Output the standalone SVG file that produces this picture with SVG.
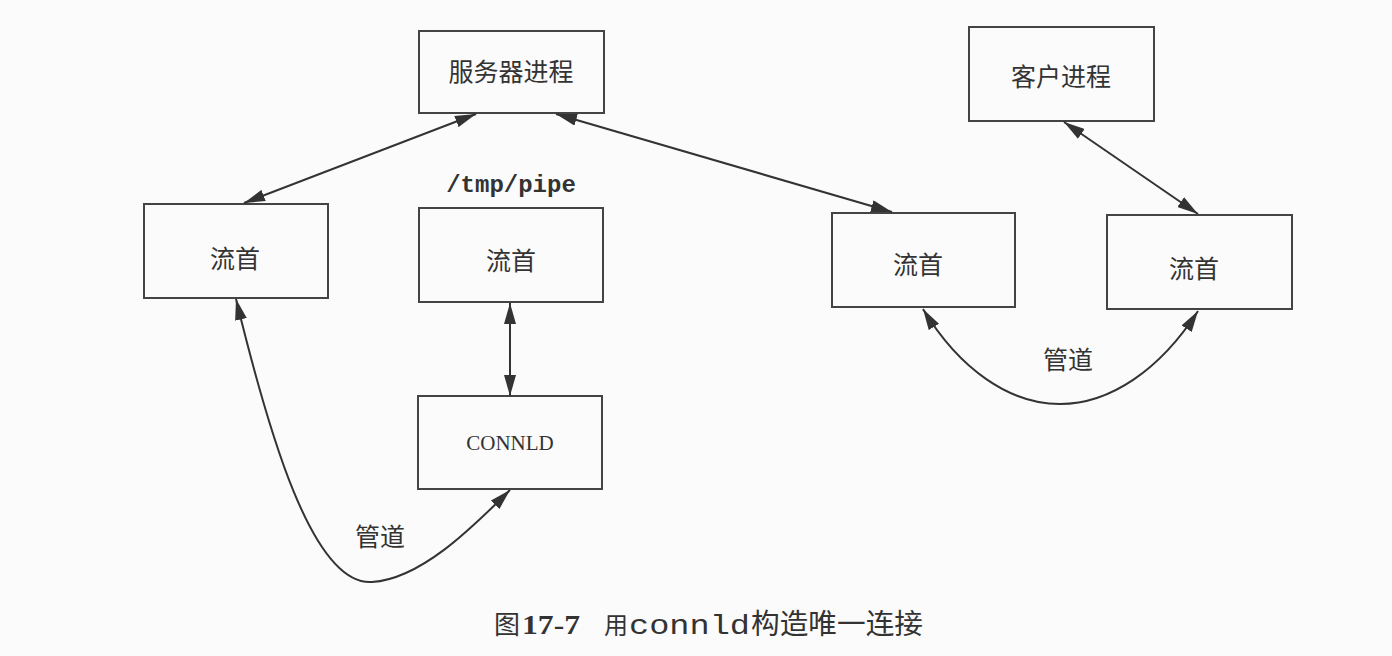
<svg xmlns="http://www.w3.org/2000/svg" width="1392" height="656" viewBox="0 0 1392 656">
<defs>
<marker id="ah" markerUnits="userSpaceOnUse" markerWidth="22" markerHeight="12" refX="21" refY="6" orient="auto-start-reverse">
<path d="M0,0 L21,6 L0,12 Z" fill="#333"/>
</marker>
<style>
.box{fill:none;stroke:#444;stroke-width:2}
.cn{font-family:"Noto Sans CJK SC","Noto Sans",sans-serif;font-size:25px;fill:#333;text-anchor:middle;dominant-baseline:central}
.ln{fill:none;stroke:#333;stroke-width:2;marker-start:url(#ah);marker-end:url(#ah)}
</style>
</defs>
<rect width="1392" height="656" fill="#fbfbfb"/>
<g id="server"><rect class="box" x="419" y="31" width="185" height="82"/><text class="cn" x="511" y="70">服务器进程</text></g>
<g id="client"><rect class="box" x="969" y="27" width="185" height="94"/><text class="cn" x="1061" y="75">客户进程</text></g>
<g id="stream1"><rect class="box" x="144" y="204" width="184" height="94"/><text class="cn" x="235" y="257">流首</text></g>
<g id="stream2"><rect class="box" x="419" y="208" width="184" height="94"/><text class="cn" x="511" y="259">流首</text>
<text x="511" y="192" text-anchor="middle" font-family="Liberation Mono, monospace" font-weight="bold" font-size="24" fill="#333">/tmp/pipe</text></g>
<g id="connld"><rect class="box" x="418" y="396" width="184" height="93"/><text x="510" y="450" text-anchor="middle" font-family="Liberation Serif, serif" font-size="21" fill="#333">CONNLD</text></g>
<g id="stream3"><rect class="box" x="832" y="213" width="183" height="94"/><text class="cn" x="918" y="263">流首</text></g>
<g id="stream4"><rect class="box" x="1107" y="215" width="185" height="94"/><text class="cn" x="1194" y="267">流首</text></g>
<g id="connectors">
<line class="ln" x1="476" y1="114" x2="244" y2="203"/>
<line class="ln" x1="556" y1="114" x2="892" y2="212"/>
<line class="ln" x1="1064" y1="122" x2="1198" y2="214"/>
<line class="ln" x1="510" y1="303" x2="510" y2="396"/>
<path class="ln" d="M236,299 C268,430 312,586 372,582 C420,579 470,530 510,490"/>
<path class="ln" d="M923,309 C960,370 1010,404 1060,404 C1110,404 1160,370 1198,311"/>
<text class="cn" x="380" y="535">管道</text>
<text class="cn" x="1068" y="358">管道</text>
</g>
<g id="caption" fill="#333">
<text x="494" y="634" font-family="Noto Sans CJK SC, sans-serif" font-size="26">图</text>
<text x="522" y="634" font-family="Liberation Serif, serif" font-weight="bold" font-size="28" textLength="58" lengthAdjust="spacingAndGlyphs">17-7</text>
<text x="604" y="634" font-family="Noto Sans CJK SC, sans-serif" font-size="24">用</text>
<text x="629" y="634" font-family="Liberation Mono, monospace" font-size="28" textLength="121" lengthAdjust="spacingAndGlyphs">connld</text>
<text x="751" y="634" font-family="Noto Sans CJK SC, sans-serif" font-size="28" textLength="172" lengthAdjust="spacingAndGlyphs">构造唯一连接</text>
</g>
</svg>
